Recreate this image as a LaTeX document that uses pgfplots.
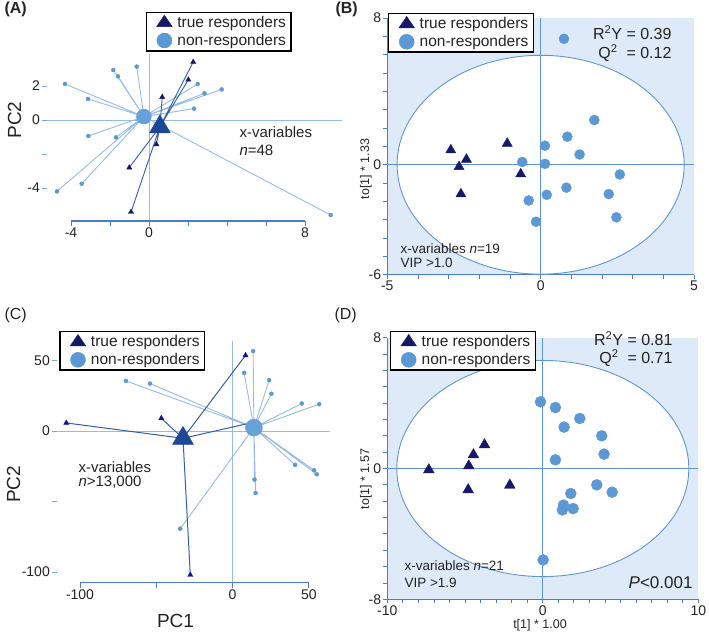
\documentclass[border=0pt]{standalone}
\usepackage{pgfplots}
\pgfplotsset{compat=1.18}
\usepackage{fontspec}
\setmainfont{Liberation Sans}
\definecolor{navy}{RGB}{24,24,104}
\definecolor{dotblue}{RGB}{91,152,212}
\definecolor{lineblue}{RGB}{150,188,230}
\definecolor{darkline}{RGB}{50,95,170}
\definecolor{axblue}{RGB}{75,125,198}
\definecolor{ytblue}{RGB}{120,165,220}
\definecolor{bgblue}{RGB}{222,234,247}
\definecolor{ellblue}{RGB}{95,150,210}
\definecolor{centtri}{RGB}{30,72,150}
\definecolor{centcirc}{RGB}{104,160,216}
\definecolor{txt}{RGB}{35,35,35}
\pgfplotsset{
  base/.style={
    scale only axis, anchor=south west, clip=false,
    axis x line*=bottom, axis y line*=left,
    tick align=outside, major tick length=5pt,
    tick label style={font=\fontsize{14}{16}\selectfont, text=txt, inner sep=2pt},
    legend cell align=left,
    legend image code/.code={\path[draw=none, fill=none] (0pt,-8pt) rectangle (26pt,8pt); \draw[line width=0.4pt, ##1] plot coordinates {(15pt,0pt)};},
    legend style={draw=black, line width=1.4pt, fill=white, anchor=north west,
      font=\fontsize{15.5}{18}\selectfont, text=txt, inner xsep=3pt, inner ysep=2pt,
      row sep=1pt},
  },
  pca/.style={base, axis line style={draw=none},
    x tick style={axblue, line width=0.9pt}, y tick style={ytblue, line width=0.9pt}},
  opls/.style={base, axis background/.style={fill=bgblue},
    axis line style={-, axblue, line width=1.1pt},
    tick style={axblue, line width=0.9pt}, major tick length=4pt},
  legtri/.style={mark=triangle*, mark size=9, mark options={yscale=0.85}, navy},
  legcirc/.style={mark=*, mark size=7.5, dotblue},
}
\begin{document}
\begin{tikzpicture}
% ---------------- (A)
\begin{axis}[pca, at={(47pt,-221pt)}, width=295pt, height=167.3pt,
  xmin=-5.23, xmax=9.9, ymin=-5.94, ymax=3.9,
  xtick={-4,-2,...,8}, xticklabels={-4,,0,,,,8},
  ytick={-4,-2,0,2}, yticklabels={-4,,0,2},
  legend style={at={(0.3346,1.251)}}]
\addlegendimage{legtri}
\addlegendimage{legcirc}
\legend{true responders, non-responders}
\draw[lineblue, line width=0.9pt] (axis cs:-5.23,0) -- (axis cs:9.9,0);
\draw[lineblue, line width=0.9pt] (axis cs:0,-5.94) -- (axis cs:0,3.9);
\draw[axblue, line width=1.1pt] (axis cs:-4,-5.94) -- (axis cs:8,-5.94);
\addplot[lineblue, line width=0.9pt, line join=round] coordinates {
(-0.26,0.2) (-4.31,2.12) (-0.26,0.2) (-1.83,2.94) (-0.26,0.2) (-1.59,2.57)
(-0.26,0.2) (-0.63,3.14) (-0.26,0.2) (-3.13,1.24) (-0.26,0.2) (2.50,2.12)
(-0.26,0.2) (2.85,1.57) (-0.26,0.2) (3.73,1.80) (-0.26,0.2) (2.31,0.67)
(-0.26,0.2) (-3.11,-0.94) (-0.26,0.2) (-1.69,-1.02) (-0.26,0.2) (-3.45,-3.75)
(-0.26,0.2) (-4.72,-4.20) (-0.26,0.2) (9.32,-5.59)};
\addplot[darkline, line width=0.9pt, line join=round] coordinates {
(0.56,-0.4) (2.27,3.41) (0.56,-0.4) (2.02,2.37) (0.56,-0.4) (0.68,1.35)
(0.56,-0.4) (0.38,-1.43) (0.56,-0.4) (-1.01,-2.80) (0.56,-0.4) (-0.92,-5.41)};
\addplot[only marks, mark=*, mark size=2, dotblue] coordinates {
(-4.31,2.12) (-1.83,2.94) (-1.59,2.57) (-0.63,3.14) (-3.13,1.24) (2.50,2.12)
(2.85,1.57) (3.73,1.80) (2.31,0.67) (-3.11,-0.94) (-1.69,-1.02) (-3.45,-3.75)
(-4.72,-4.20) (9.32,-5.59)};
\addplot[only marks, mark=triangle*, mark size=3, navy] coordinates {
(2.27,3.41) (2.02,2.37) (0.68,1.35) (0.38,-1.43) (-1.01,-2.80) (-0.92,-5.41)};
\addplot[only marks, mark=*, mark size=7.5, centcirc] coordinates {(-0.26,0.2)};
\addplot[only marks, mark=triangle*, mark size=12, centtri] coordinates {(0.56,-0.4)};
\end{axis}
% ---------------- (B)
\begin{axis}[opls, at={(387.3pt,-274.7pt)}, width=306.7pt, height=256.6pt,
  xmin=-5, xmax=5, ymin=-6, ymax=8,
  xtick={-5,...,5}, xticklabels={-5,,,,,0,,,,,5},
  ytick={-6,...,8}, yticklabels={-6,,,,,,0,,,,,,,,8},
  legend style={at={(0.0023,1.0199)}}]
\addlegendimage{legtri}
\addlegendimage{legcirc}
\legend{true responders, non-responders}
\draw[ellblue, fill=white, line width=0.9pt] (axis cs:0,0) ellipse [x radius=4.68, y radius=5.97];
\draw[ellblue, line width=0.9pt] (axis cs:-5,0) -- (axis cs:5,0);
\draw[ellblue, line width=0.9pt] (axis cs:0,-6) -- (axis cs:0,8);
\addplot[only marks, mark=*, mark size=5, dotblue] coordinates {
(0.76,6.87) (1.75,2.44) (0.87,1.53) (0.14,1.04) (1.27,0.56) (-0.60,0.15)
(0.14,0.05) (2.58,-0.53) (0.84,-1.25) (0.20,-1.64) (2.22,-1.60) (-0.39,-1.95)
(2.47,-2.87) (-0.15,-3.11)};
\addplot[only marks, mark=triangle*, mark size=5.8, navy] coordinates {
(-2.93,0.80) (-2.66,-0.11) (-2.42,0.29) (-2.60,-1.60) (-1.09,1.16) (-0.65,-0.51)};
\end{axis}
% ---------------- (C)
\begin{axis}[pca, at={(57pt,-582.7pt)}, width=273pt, height=241.7pt,
  xmin=-115.1, xmax=63.9, ymin=-107.6, ymax=63.8,
  xtick={-100,-50,0,50}, xticklabels={-100,,0,50},
  ytick={-100,-50,0,50}, yticklabels={-100,,0,50},
  legend style={at={(0.0084,1.0414)}}]
\addlegendimage{legtri}
\addlegendimage{legcirc}
\legend{true responders, non-responders}
\draw[lineblue, line width=0.9pt] (axis cs:-115.1,0) -- (axis cs:63.9,0);
\draw[lineblue, line width=0.9pt] (axis cs:0,-107.6) -- (axis cs:0,63.8);
\draw[axblue, line width=1.1pt] (axis cs:-100,-107.6) -- (axis cs:50,-107.6);
\addplot[lineblue, line width=0.9pt, line join=round] coordinates {
(14.0,2.4) (13.5,56.7) (14.0,2.4) (7.6,41.2) (14.0,2.4) (24.0,36.0)
(14.0,2.4) (25.5,26.4) (14.0,2.4) (45.4,19.5) (14.0,2.4) (56.8,19.0)
(14.0,2.4) (-69.9,35.5) (14.0,2.4) (-54.1,33.6) (14.0,2.4) (41.0,-24.0)
(14.0,2.4) (53.5,-27.9) (14.0,2.4) (55.2,-30.7) (14.0,2.4) (14.4,-34.5)
(14.0,2.4) (15.1,-44.0) (14.0,2.4) (-34.3,-69.3)};
\addplot[darkline, line width=1pt, line join=round] coordinates {
(-32.5,-5.2) (8.5,53.6) (-32.5,-5.2) (-46.7,9.0) (-32.5,-5.2) (-109.0,5.7)
(-32.5,-5.2) (-27.7,-102.1) (-32.5,-5.2) (11.0,5.5)};
\addplot[only marks, mark=*, mark size=2, dotblue] coordinates {
(13.5,56.7) (7.6,41.2) (24.0,36.0) (25.5,26.4) (45.4,19.5) (56.8,19.0)
(-69.9,35.5) (-54.1,33.6) (41.0,-24.0) (53.5,-27.9) (55.2,-30.7) (14.4,-34.5)
(15.1,-44.0) (-34.3,-69.3)};
\addplot[only marks, mark=triangle*, mark size=3, navy!70!blue] coordinates {
(8.5,53.6) (-46.7,9.0) (-109.0,5.7) (-27.7,-102.1)};
\addplot[only marks, mark=*, mark size=8.5, centcirc] coordinates {(14.0,2.4)};
\addplot[only marks, mark=triangle*, mark size=12, centtri] coordinates {(-32.5,-5.2)};
\end{axis}
% ---------------- (D)
\begin{axis}[opls, at={(387.3pt,-599.3pt)}, width=311pt, height=261.6pt,
  xmin=-10, xmax=10, ymin=-8, ymax=8,
  xtick={-10,...,10}, xticklabels={-10,,,,,,,,,,0,,,,,,,,,,10},
  ytick={-8,...,8}, yticklabels={-8,,,,,,,,0,,,,,,,,8},
  legend style={at={(0.0087,1.0256)}}]
\addlegendimage{legtri}
\addlegendimage{legcirc}
\legend{true responders, non-responders}
\draw[ellblue, fill=white, line width=0.9pt] (axis cs:0,0) ellipse [x radius=9.39, y radius=6.61];
\draw[ellblue, line width=0.9pt] (axis cs:-10,0) -- (axis cs:10,0);
\draw[ellblue, line width=0.9pt] (axis cs:0,-8) -- (axis cs:0,8);
\addplot[only marks, mark=*, mark size=5.5, dotblue] coordinates {
(-0.15,4.08) (0.81,3.73) (2.38,3.06) (1.37,2.53) (3.79,2.00) (3.94,0.88)
(0.81,0.53) (3.47,-1.00) (4.46,-1.45) (1.80,-1.53) (1.33,-2.24) (1.26,-2.53)
(1.95,-2.45) (0.02,-5.59)};
\addplot[only marks, mark=triangle*, mark size=6.2, navy] coordinates {
(-7.33,-0.08) (-4.76,0.16) (-4.46,0.84) (-3.75,1.45) (-4.80,-1.30) (-2.12,-1.02)};
\end{axis}
% ---------------- texts
\begin{scope}[every node/.style={text=txt}]
\node[anchor=west, font=\bfseries\fontsize{16}{18}\selectfont] at (1pt,-9pt) {(A)};
\node[anchor=west, font=\bfseries\fontsize{16}{18}\selectfont] at (332pt,-9pt) {(B)};
\node[anchor=west, font=\fontsize{16}{18}\selectfont] at (1pt,-315pt) {(C)};
\node[anchor=west, font=\fontsize{16}{18}\selectfont] at (331pt,-315pt) {(D)};
\node[rotate=90, font=\fontsize{19}{21}\selectfont] at (14.5pt,-120pt) {PC2};
\node[rotate=90, font=\fontsize{19}{21}\selectfont] at (13.5pt,-484.5pt) {PC2};
\node[font=\fontsize{19}{21}\selectfont] at (175.5pt,-620.5pt) {PC1};
\node[anchor=west, font=\fontsize{15}{17}\selectfont] at (236pt,-132.5pt) {x-variables};
\node[anchor=west, font=\fontsize{15}{17}\selectfont] at (236pt,-150.8pt) {\textit{n}=48};
\node[anchor=west, font=\fontsize{15}{17}\selectfont] at (75pt,-466.8pt) {x-variables};
\node[anchor=west, font=\fontsize{15}{17}\selectfont] at (75pt,-481.8pt) {\textit{n}>13,000};
\node[anchor=west, font=\fontsize{13.5}{15}\selectfont] at (397pt,-248.3pt) {x-variables \textit{n}=19};
\node[anchor=west, font=\fontsize{13.5}{15}\selectfont] at (397pt,-263.3pt) {VIP >1.0};
\node[anchor=west, font=\fontsize{13.5}{15}\selectfont] at (401pt,-566pt) {x-variables \textit{n}=21};
\node[anchor=west, font=\fontsize{13.5}{15}\selectfont] at (401pt,-582.7pt) {VIP >1.9};
\node[anchor=east, font=\fontsize{16}{18}\selectfont] at (675pt,-33pt) {R\textsuperscript{2}Y = 0.39};
\node[anchor=east, font=\fontsize{16}{18}\selectfont] at (675pt,-53pt) {Q\textsuperscript{2}\ \ = 0.12};
\node[anchor=east, font=\fontsize{16}{18}\selectfont] at (676pt,-339pt) {R\textsuperscript{2}Y = 0.81};
\node[anchor=east, font=\fontsize{16}{18}\selectfont] at (676pt,-358pt) {Q\textsuperscript{2}\ \ = 0.71};
\node[anchor=east, font=\fontsize{17}{19}\selectfont] at (696pt,-583pt) {\textit{P}<0.001};
\node[rotate=90, font=\fontsize{12.5}{14}\selectfont] at (366pt,-169pt) {to[1] * 1.33};
\node[rotate=90, font=\fontsize{12.5}{14}\selectfont] at (366pt,-479pt) {to[1] * 1.57};
\node[font=\fontsize{12.5}{14}\selectfont] at (540pt,-625pt) {t[1] * 1.00};
\end{scope}
\pgfresetboundingbox
\path[use as bounding box] (0pt,0pt) rectangle (709pt,-632pt);
\end{tikzpicture}
\end{document}
